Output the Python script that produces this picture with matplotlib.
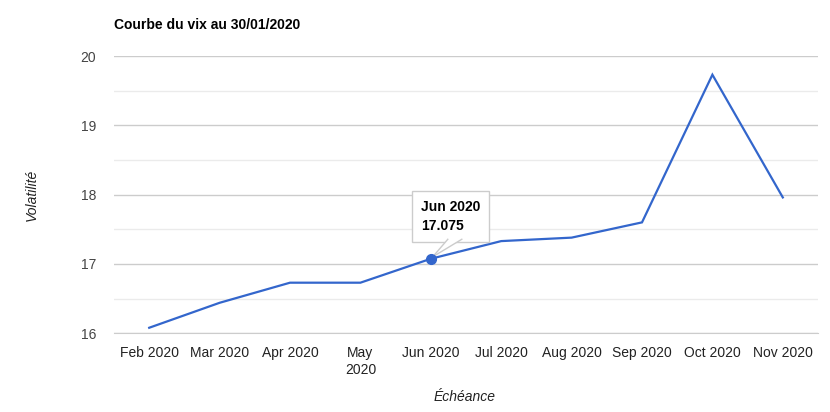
import matplotlib.pyplot as plt
from matplotlib.patches import Polygon
from matplotlib.transforms import offset_copy, IdentityTransform
from matplotlib.ticker import MultipleLocator

plt.rcParams['font.family'] = ['Liberation Sans', 'DejaVu Sans']

months = ['Feb 2020', 'Mar 2020', 'Apr 2020', 'May\n2020', 'Jun 2020',
          'Jul 2020', 'Aug 2020', 'Sep 2020', 'Oct 2020', 'Nov 2020']
vix = [16.08, 16.44, 16.73, 16.73, 17.075, 17.33, 17.38, 17.60, 19.73, 17.96]
tip_idx = 4
tip_label = 'Jun 2020'

fig = plt.figure(figsize=(8.3, 4.12), dpi=100)
ax = fig.add_axes([114 / 830, 1 - 333.3 / 412, 704 / 830, 277.3 / 412])

x = range(len(months))
ax.plot(x, vix, color='#3366cc', lw=1.6, solid_joinstyle='miter', zorder=3)
ax.plot(tip_idx, vix[tip_idx], 'o', color='#3366cc', ms=7, zorder=8)

ax.set_xlim(-0.5, len(months) - 0.5)
ax.set_ylim(16, 20)
ax.yaxis.set_major_locator(MultipleLocator(1))
ax.yaxis.set_minor_locator(MultipleLocator(0.5))
ax.grid(which='major', axis='y', color='#cccccc', lw=1)
ax.grid(which='minor', axis='y', color='#ebebeb', lw=1)
ax.set_axisbelow(True)
for s in ax.spines.values():
    s.set_visible(False)
ax.spines['bottom'].set_visible(True)
ax.spines['bottom'].set_color('#cccccc')
ax.set_xticks(list(x))
ax.set_xticklabels(months, linespacing=1.3)
ax.tick_params(axis='both', which='both', length=0, labelsize=10)
ax.tick_params(axis='y', pad=13, labelcolor='#444444')
ax.tick_params(axis='x', pad=9, labelcolor='#222222')

fig.text(114 / 830, 1 - 25 / 412, 'Courbe du vix au 30/01/2020', fontsize=10,
         fontweight='bold', va='center', ha='left', color='#000000')
fig.text(32 / 830, 1 - 195 / 412, 'Volatilité', rotation=90, style='italic',
         fontsize=10, va='center', ha='center', color='#222222')
fig.text(465 / 830, 1 - 397 / 412, 'Échéance', style='italic',
         fontsize=10, va='center', ha='center', color='#222222')

# tooltip box
ax.annotate(f'{tip_label}\n{vix[tip_idx]:.3f}', xy=(tip_idx, vix[tip_idx]),
            xytext=(-10, 26), textcoords='offset pixels',
            ha='left', va='bottom', fontsize=10, fontweight='bold',
            linespacing=1.4, zorder=5,
            bbox=dict(boxstyle='square,pad=0.65', fc='white', ec='#cccccc', lw=1))

# tooltip tail, in pixel offsets from the hovered point
fig.canvas.draw()
px, py = tip_idx, vix[tip_idx]
tail = []
for dx, dy in [(2, 2), (17, 19.5), (31, 19.5)]:
    tr = offset_copy(ax.transData, fig=fig, x=dx, y=dy, units='dots')
    tail.append(tr.transform((px, py)))
ax.add_patch(Polygon(tail, closed=True, transform=IdentityTransform(),
                     fc='white', ec='none', zorder=6, clip_on=False))
for end in (tail[1], tail[2]):
    ax.add_line(plt.Line2D([tail[0][0], end[0]], [tail[0][1], end[1]],
                           transform=IdentityTransform(), color='#cccccc',
                           lw=1, zorder=7, clip_on=False))

fig.savefig('out.png', dpi=100)
